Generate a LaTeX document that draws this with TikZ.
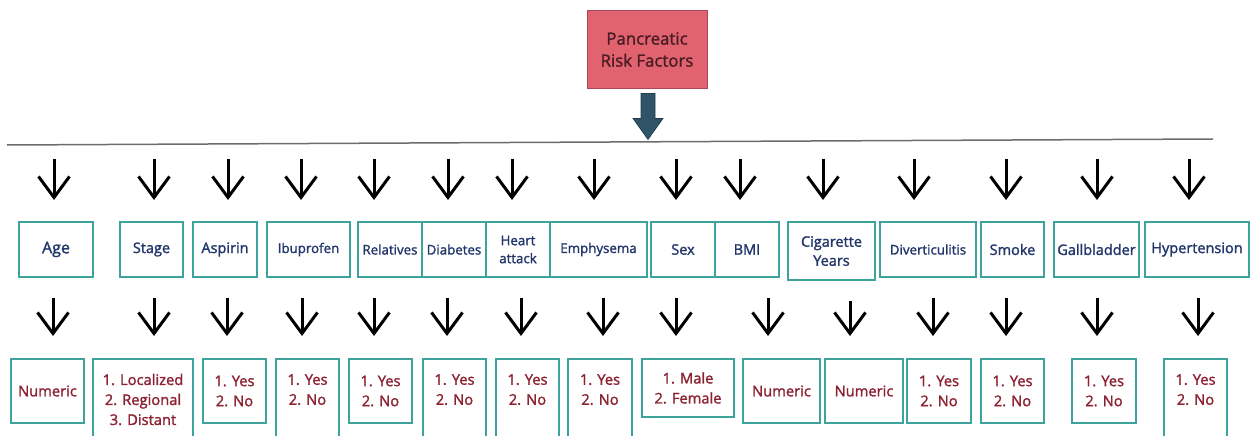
\documentclass[tikz,border=0pt]{standalone}
\usepackage{fontspec}
\setmainfont{Open Sans}[FakeBold=1.6]
\usetikzlibrary{arrows.meta}
\definecolor{rootfill}{HTML}{E1636F}
\definecolor{rootline}{HTML}{A8485A}
\definecolor{roottext}{HTML}{4A1C24}
\definecolor{blockfill}{HTML}{2F5468}
\definecolor{boxline}{HTML}{3FA39D}
\definecolor{factortext}{HTML}{22366B}
\definecolor{valuetext}{HTML}{8C2232}
\tikzset{
    box/.style = {
        draw=boxline, line width=2pt, fill=white, inner sep=0, align=center
    },
    factor/.style = {
        box, minimum width=#1, minimum height=55pt, text=factortext,
        font=\fontsize{14.5}{18}\selectfont
    },
    value/.style = {
        box, minimum width=#1, minimum height=64pt, text=valuetext,
        font=\fontsize{14.7}{20}\selectfont
    },
    tall/.style = {minimum height=81pt},
    narrow/.style = {font=\fontsize{13.3}{18}\selectfont},
    downarrow/.style = {line width=3pt, -{Straight Barb[length=21pt,width=31pt]}}
}

\begin{document}
\begin{tikzpicture}[x=1pt, y=-1pt]
    \useasboundingbox (0,0) rectangle (1250,436);

    \node[draw=rootline, fill=rootfill, text=roottext, line width=1pt,
          minimum width=120pt, minimum height=77pt, align=center,
          font=\fontsize{16.8}{22}\selectfont] (root) at (647,49.5) {Pancreatic\\Risk Factors};
    \fill[blockfill, draw=blockfill!70!black, line width=0.6pt]
        ([xshift=-6pt,yshift=-5pt]root.south) -- ++(14,0) -- ++(0,25) -- ++(8,0)
        -- ++(-15,21) -- ++(-15,-21) -- ++(8,0) -- cycle;
    \coordinate (ruleL) at (7,145);
    \coordinate (ruleR) at (1213,139);
    \draw[gray!85!black, line width=1.5pt] (ruleL) -- (ruleR);

    \node[factor=74pt, font=\fontsize{16}{18}\selectfont] (age) at (56,249.5) {Age};
    \node[factor=63pt] (stage) at (151.5,249.5) {Stage};
    \node[factor=64pt] (aspirin) at (225,249.5) {Aspirin};
    \node[factor=83pt, narrow] (ibuprofen) at (308.5,249.5) {Ibuprofen};
    \node[factor=64pt, narrow] (relatives) at (390,249.5) {Relatives};
    \node[factor=64pt, narrow] (diabetes) at (454,249.5) {Diabetes};
    \node[factor=64pt, narrow] (heart) at (518,249.5) {Heart\\attack};
    \node[factor=97pt, narrow] (emphysema) at (598.5,249.5) {Emphysema};
    \node[factor=64pt] (sex) at (683,249.5) {Sex};
    \node[factor=64pt] (bmi) at (747,249.5) {BMI};
    \node[factor=87pt, minimum height=58pt, font=\fontsize{14.5}{19}\selectfont] (cigarette) at (831.5,251) {Cigarette\\Years};
    \node[factor=96pt, narrow] (diverticulitis) at (928,249.5) {Diverticulitis};
    \node[factor=63pt] (smoke) at (1012.5,249.5) {Smoke};
    \node[factor=85pt] (gallbladder) at (1096.5,249.5) {Gallbladder};
    \node[factor=104pt] (hypertension) at (1197,249.5) {Hypertension};

    \node[value=73pt] (age-v) at (47.5,391) {Numeric};
    \node[value=100pt, tall] (stage-v) at (143,399.5) {1. Localized\\2. Regional\\3. Distant};
    \node[value=63pt] (aspirin-v) at (234.5,391) {1. Yes\\2. No};
    \node[value=63pt, tall] (ibuprofen-v) at (307.5,399.5) {1. Yes\\2. No\\\mbox{}};
    \node[value=63pt] (relatives-v) at (380.5,391) {1. Yes\\2. No};
    \node[value=63pt, tall] (diabetes-v) at (454.5,399.5) {1. Yes\\2. No\\\mbox{}};
    \node[value=63pt, tall] (heart-v) at (527.5,399.5) {1. Yes\\2. No\\\mbox{}};
    \node[value=64pt, tall] (emphysema-v) at (600,399.5) {1. Yes\\2. No\\\mbox{}};
    \node[value=92pt, minimum height=58pt] (sex-v) at (688,388) {1. Male\\2. Female};
    \node[value=77pt] (bmi-v) at (781.5,391) {Numeric};
    \node[value=78pt] (cigarette-v) at (864,391) {Numeric};
    \node[value=64pt] (diverticulitis-v) at (939,391) {1. Yes\\2. No};
    \node[value=63pt] (smoke-v) at (1012.5,391) {1. Yes\\2. No};
    \node[value=64pt] (gallbladder-v) at (1104,391) {1. Yes\\2. No};
    \node[value=63pt, tall] (hypertension-v) at (1195.5,399.5) {1. Yes\\2. No\\\mbox{}};

    \foreach \b/\x in {age/54, stage/154, aspirin/228, ibuprofen/301, relatives/374,
                       diabetes/448, heart/512, emphysema/594, sex/676, bmi/740,
                       cigarette/823, diverticulitis/914, smoke/1006, gallbladder/1097,
                       hypertension/1189}
        \draw[downarrow, shorten >=21pt] (\x,159) -- (\x,0 |- \b.north);
    \foreach \b/\x in {age/53, stage/154, aspirin/227, ibuprofen/302, relatives/374,
                       diabetes/447, heart/521, emphysema/603, sex/676, bmi/768,
                       cigarette/850, diverticulitis/933, smoke/1006, gallbladder/1097,
                       hypertension/1198}
        \draw[downarrow, shorten <=20pt, shorten >=22pt] (\x,0 |- \b.south) -- (\x,0 |- \b-v.north);
\end{tikzpicture}
\end{document}
